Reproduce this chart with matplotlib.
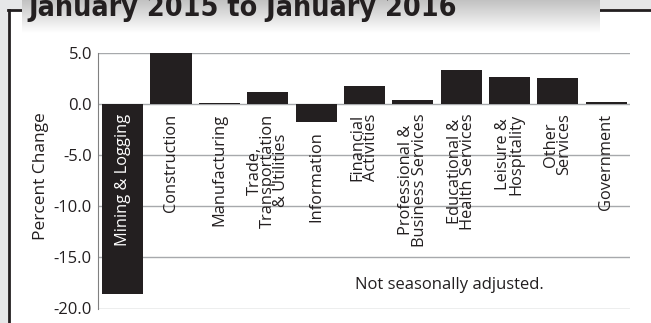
import matplotlib.pyplot as plt
import numpy as np
from matplotlib import font_manager

# percent change in employment by industry, Jan 2015 - Jan 2016
industries = ['Mining & Logging', 'Construction', 'Manufacturing',
              'Trade,\nTransportation\n& Utilities', 'Information',
              'Financial\nActivities', 'Professional &\nBusiness Services',
              'Educational &\nHealth Services', 'Leisure &\nHospitality',
              'Other\nServices', 'Government']
pct_change = [-18.6, 5.0, 0.1, 1.2, -1.7, 1.8, 0.4, 3.4, 2.7, 2.6, 0.2]
yticks = [5.0, 0.0, -5.0, -10.0, -15.0, -20.0]

names = {f.name for f in font_manager.fontManager.ttflist}
body_font = 'Open Sans' if 'Open Sans' in names else 'DejaVu Sans'

ink = '#231f20'
grey_bg = '#e6e7e8'
W, H = 651, 323

fig = plt.figure(figsize=(W / 100, H / 100), dpi=100, facecolor=grey_bg)

# white panel and dark frame
fig.patches.append(plt.Rectangle((9 / W, 0), 1, 1 - 10 / H, transform=fig.transFigure,
                                 facecolor='white', edgecolor='none', zorder=-10))
fig.add_artist(plt.Line2D([9 / W, 9 / W], [0, 1 - 10 / H], color=ink, lw=2, zorder=-5))
fig.add_artist(plt.Line2D([8 / W, 22 / W], [1 - 10 / H, 1 - 10 / H], color=ink, lw=2, zorder=-5))
fig.add_artist(plt.Line2D([600 / W, 1], [1 - 10 / H, 1 - 10 / H], color=ink, lw=2, zorder=-5))

# title banner with grey-to-white fade
tax = fig.add_axes([22 / W, 1 - 33 / H, 578 / W, 33 / H])
grad = np.linspace(0.76, 1.0, 64).reshape(-1, 1)
tax.imshow(np.dstack([grad, grad, grad]), aspect='auto', extent=[0, 1, 0, 1], origin='upper')
tax.axis('off')
fig.text(28 / W, 1 - 16 / H, 'January 2015 to January 2016', fontsize=20.5,
         fontweight='bold', family='DejaVu Sans', fontstretch='condensed',
         color=ink, va='baseline', ha='left', zorder=5)

ax = fig.add_axes([97.5 / W, 1 - 308.5 / H, (630 - 97.5) / W, (308.5 - 53.3) / H])
ax.patch.set_alpha(0)
x = np.arange(len(industries))
ax.bar(x, pct_change, width=0.85, color=ink, zorder=3)

ax.set_xlim(-0.52, 10.49)
ax.set_ylim(-20, 5)
ax.set_yticks(yticks)
ax.set_yticklabels(['%.1f' % t for t in yticks], family=body_font, fontsize=12, color=ink)
ax.set_xticks([])
ax.tick_params(axis='y', length=0, pad=4)
ax.grid(axis='y', color='#a7a9ac', lw=1, zorder=1)
for side in ['top', 'right', 'bottom']:
    ax.spines[side].set_visible(False)
ax.spines['left'].set_color('#808080')
ax.set_ylabel('Percent Change', family=body_font, fontsize=12.5, color=ink)
ax.yaxis.set_label_coords(-0.092, 0.52)

# category names, hanging down from the zero line (below the bar if negative)
for i, (name, v) in enumerate(zip(industries, pct_change)):
    if i == 0:
        top, col = -0.9, 'white'
    else:
        top, col = min(v, 0) - 0.9, ink
    ax.text(i, top, name, rotation=90, ha='center', va='top', multialignment='center',
            family=body_font, fontsize=11.8, color=col, linespacing=0.78, zorder=4)

ax.text(6.75, -17.7, 'Not seasonally adjusted.', ha='center', va='center',
        family=body_font, fontsize=12, color=ink)

fig.savefig('out.png', dpi=100, facecolor=grey_bg)
